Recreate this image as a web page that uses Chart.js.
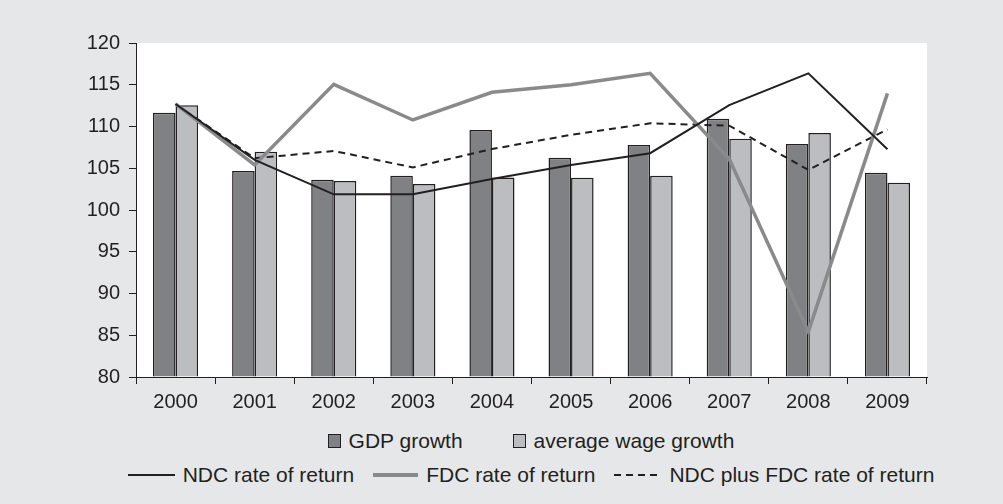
<!DOCTYPE html>
<html>
<head>
<meta charset="utf-8">
<script src="https://cdn.jsdelivr.net/npm/chart.js@4/dist/chart.umd.min.js"></script>
<style>
  html, body { margin: 0; padding: 0; background: #e6e7e8; }
  body { width: 1003px; height: 504px; position: relative; overflow: hidden;
         font-family: "Liberation Sans", Arial, sans-serif; color: #231f20; }
  #wrap { position: absolute; left: 0; top: 0; width: 1003px; height: 420px; }
  .legend-row { position: absolute; left: 31px; width: 1000px; display: flex;
                justify-content: center; align-items: center; font-size: 21px; white-space: nowrap; }
  .box { display: inline-block; width: 13px; height: 14px; border: 1px solid #231f20; box-sizing: border-box; margin-right: 8px; }
  .ln { display: inline-block; width: 47px; margin-right: 8px; }
</style>
</head>
<body>
<div id="wrap"><canvas id="chart" width="1003" height="420"></canvas></div>

<div class="legend-row" style="top: 429px;">
  <span class="box" style="background:#808184"></span><span>GDP growth</span>
  <span class="box" style="background:#bcbdc0; margin-left:50px"></span><span>average wage growth</span>
</div>
<div class="legend-row" style="top: 463px;">
  <span class="ln" style="height:2px; background:#231f20"></span><span>NDC rate of return</span>
  <span class="ln" style="height:4px; background:#898a8c; margin-left:19px; width:45px"></span><span>FDC rate of return</span>
  <span class="ln" style="height:2px; margin-left:19px; background:repeating-linear-gradient(to right, #231f20 0 7px, transparent 7px 12px)"></span><span>NDC plus FDC rate of return</span>
</div>

<script>
const years = ["2000", "2001", "2002", "2003", "2004", "2005", "2006", "2007", "2008", "2009"];
const gdpGrowth = [111.65, 104.67, 103.63, 104.1, 109.58, 106.27, 107.78, 110.94, 107.9, 104.47];
const wageGrowth = [112.54, 106.98, 103.47, 103.1, 103.9, 103.87, 104.1, 108.54, 109.22, 103.27];
const ndcReturn = [112.7, 106.0, 101.88, 101.9, 103.7, 105.4, 106.8, 112.57, 116.37, 107.27];
const fdcReturn = [112.7, 105.4, 115.05, 110.78, 114.1, 115.0, 116.37, 106.1, 85.43, 113.97];
const ndcPlusFdc = [112.7, 106.2, 107.07, 105.1, 107.3, 109.0, 110.38, 110.1, 104.8, 109.66];
const yTicks = [80, 85, 90, 95, 100, 105, 110, 115, 120];

const ink = "#231f20";

// white plot area behind everything
const plotBg = {
  id: "plotBg",
  beforeDraw(chart) {
    const { ctx, chartArea: a } = chart;
    ctx.save();
    ctx.fillStyle = "#ffffff";
    ctx.fillRect(a.left, a.top, a.right - a.left, a.bottom - a.top);
    ctx.restore();
  },
};

new Chart(document.getElementById("chart").getContext("2d"), {
  type: "bar",
  data: {
    labels: years,
    datasets: [
      { label: "NDC rate of return", type: "line", data: ndcReturn, borderColor: ink,
        borderWidth: 2, pointRadius: 0, tension: 0, order: 0 },
      { label: "FDC rate of return", type: "line", data: fdcReturn, borderColor: "#898a8c",
        borderWidth: 3.5, pointRadius: 0, tension: 0, order: 0 },
      { label: "NDC plus FDC rate of return", type: "line", data: ndcPlusFdc, borderColor: ink,
        borderWidth: 2, borderDash: [7, 5], pointRadius: 0, tension: 0, order: 0 },
      { label: "GDP growth", data: gdpGrowth, backgroundColor: "#808184", borderColor: ink,
        borderWidth: 1.5, base: 80, order: 1 },
      { label: "average wage growth", data: wageGrowth, backgroundColor: "#bcbdc0", borderColor: ink,
        borderWidth: 1.5, base: 80, order: 1 },
    ],
  },
  options: {
    responsive: false,
    animation: false,
    categoryPercentage: 0.57,
    barPercentage: 1,
    layout: { padding: { top: 43, right: 76, left: 0, bottom: 0 } },
    plugins: { legend: { display: false }, tooltip: { enabled: false } },
    scales: {
      x: {
        grid: { drawOnChartArea: false, drawTicks: true, tickLength: 7, color: ink, offset: true },
        border: { display: true, color: ink, width: 1 },
        ticks: { color: ink, font: { family: "Liberation Sans", size: 20 }, padding: 6, maxRotation: 0 },
        afterFit: (s) => { s.height = 43; },
      },
      y: {
        min: 80,
        max: 120,
        grid: { drawOnChartArea: false, drawTicks: true, tickLength: 7, color: ink },
        border: { display: true, color: ink, width: 1 },
        afterBuildTicks: (s) => { s.ticks = yTicks.map((v) => ({ value: v })); },
        ticks: { color: ink, font: { family: "Liberation Sans", size: 20 }, padding: 9 },
        afterFit: (s) => { s.width = 136; },
      },
    },
  },
  plugins: [plotBg],
});
</script>
</body>
</html>
